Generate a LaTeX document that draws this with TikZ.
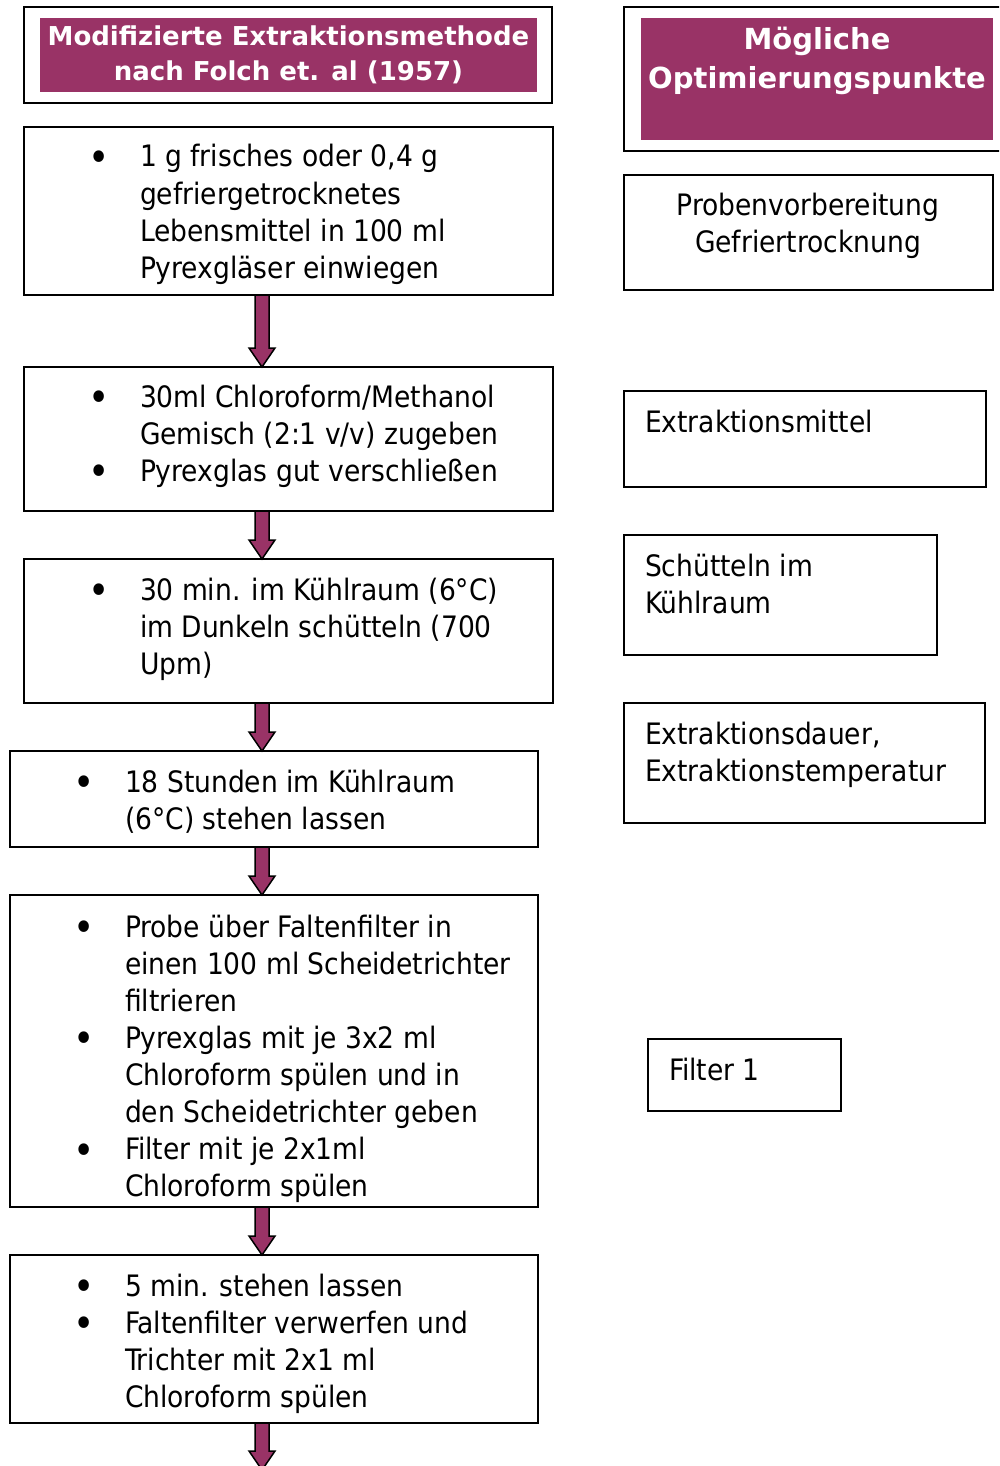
\documentclass[tikz,border=0pt]{standalone}
\usepackage{fontspec}
\setmainfont{DejaVu Sans Condensed}
\newfontfamily\hdrfont{DejaVu Sans}
\usetikzlibrary{calc}
\definecolor{plum}{HTML}{993366}
\newcommand{\bu}{\hspace*{6pt}\makebox[0pt][c]{\raisebox{-4.5pt}{\fontsize{40}{37}\selectfont\textbullet}}}
\newcommand{\blist}[1]{\begin{tabular}[t]{@{}p{47pt}@{}l@{}}#1\end{tabular}}
\newcommand{\plist}[1]{\begin{tabular}[t]{@{}l@{}}#1\end{tabular}}
\newcommand{\clist}[1]{\begin{tabular}[t]{@{}c@{}}#1\end{tabular}}
\tikzset{
  box/.style={draw=black, line width=2pt, rectangle, inner sep=0pt, outer sep=0pt, anchor=north west},
  hdrfill/.style={fill=plum, draw=none, rectangle, inner sep=0pt, outer sep=0pt, anchor=north west},
  txt/.style={inner sep=0pt, outer sep=0pt, anchor=base west, font={\fontsize{29.5}{37.1}\selectfont}},
  ctxt/.style={txt, anchor=base},
  hdrtxt/.style={inner sep=0pt, outer sep=0pt, anchor=base, text=white, font={\hdrfont\bfseries\fontsize{26}{35}\selectfont}},
  hdrtxtb/.style={hdrtxt, font={\hdrfont\bfseries\fontsize{29}{39}\selectfont}},
  fatarrow/.style={draw=black, fill=plum, line width=1.5pt, line join=miter},
}
\newcommand{\fatarr}[2]{%
  \path let \p1=(#1.south -| ax), \p2=(#2.north -| ax) in
    [fatarrow] (\x1-7pt,\y1) -- (\x1-7pt,\y2+19pt) -- (\x1-13pt,\y2+19pt) -- (\x2,\y2)
    -- (\x1+13pt,\y2+19pt) -- (\x1+7pt,\y2+19pt) -- (\x1+7pt,\y1) -- cycle;}
\begin{document}
\begin{tikzpicture}[x=1pt, y=-1pt]
\useasboundingbox (0,0) rectangle (999,1466);
\clip (0,0) rectangle (999,1466);
\coordinate (ax) at (262,0);
\coordinate (end) at (262,1470);

% left header
\node[box, minimum width=528pt, minimum height=96pt] (hl) at (24,7) {};
\node[hdrfill, minimum width=497pt, minimum height=74pt] (hlf) at (40,18) {};
\node[hdrtxt] (hlt) at (288.5,46) {\clist{Modifizierte Extraktionsmethode\\nach Folch et. al (1957)}};

% right header
\node[box, minimum width=380pt, minimum height=144pt] (hr) at (624,7) {};
\node[hdrfill, minimum width=352pt, minimum height=122pt] (hrf) at (641,18) {};
\node[hdrtxtb] (hrt) at (817,50) {\clist{Mögliche\\Optimierungspunkte}};

% left column boxes
\node[box, minimum width=529pt, minimum height=168pt] (b1) at (24,127) {};
\node[txt] (t1) at (93,167) {\blist{\bu & 1 g frisches oder 0,4 g\\ & gefriergetrocknetes\\ & Lebensmittel in 100 ml\\ & Pyrexgläser einwiegen}};

\node[box, minimum width=529pt, minimum height=144pt] (b2) at (24,367) {};
\node[txt] (t2) at (93,407) {\blist{\bu & 30ml Chloroform/Methanol\\ & Gemisch (2:1 v/v) zugeben\\ \bu & Pyrexglas gut verschließen}};

\node[box, minimum width=529pt, minimum height=144pt] (b3) at (24,559) {};
\node[txt] (t3) at (93,600) {\blist{\bu & 30 min. im Kühlraum (6°C)\\ & im Dunkeln schütteln (700\\ & Upm)}};

\node[box, minimum width=528pt, minimum height=96pt] (b4) at (10,751) {};
\node[txt] (t4) at (78,792) {\blist{\bu & 18 Stunden im Kühlraum\\ & (6°C) stehen lassen}};

\begin{scope}
\clip (10,895) rectangle (538,1207);
\node[txt] (t5) at (78,937) {\blist{\bu & Probe über Faltenfilter in\\ & einen 100 ml Scheidetrichter\\ & filtrieren\\ \bu & Pyrexglas mit je 3x2 ml\\ & Chloroform spülen und in\\ & den Scheidetrichter geben\\ \bu & Filter mit je 2x1ml\\ & Chloroform spülen}};
\end{scope}
\node[box, minimum width=528pt, minimum height=312pt] (b5) at (10,895) {};

\node[box, minimum width=528pt, minimum height=168pt] (b6) at (10,1255) {};
\node[txt] (t6) at (78,1296) {\blist{\bu & 5 min. stehen lassen\\ \bu & Faltenfilter verwerfen und\\ & Trichter mit 2x1 ml\\ & Chloroform spülen}};

% right column boxes
\node[box, minimum width=369pt, minimum height=115pt] (r1) at (624,175) {};
\node[ctxt] (rt1) at (808,215) {\clist{Probenvorbereitung\\Gefriertrocknung}};

\node[box, minimum width=362pt, minimum height=96pt] (r2) at (624,391) {};
\node[txt] (rt2) at (645,432) {Extraktionsmittel};

\node[box, minimum width=313pt, minimum height=120pt] (r3) at (624,535) {};
\node[txt] (rt3) at (645,576) {\plist{Schütteln im\\Kühlraum}};

\node[box, minimum width=361pt, minimum height=120pt] (r4) at (624,703) {};
\node[txt] (rt4) at (645,744) {\plist{Extraktionsdauer,\\Extraktionstemperatur}};

\node[box, minimum width=193pt, minimum height=72pt] (r5) at (648,1039) {};
\node[txt] (rt5) at (669,1080) {Filter 1};

% arrows
\fatarr{b1}{b2}
\fatarr{b2}{b3}
\fatarr{b3}{b4}
\fatarr{b4}{b5}
\fatarr{b5}{b6}
\fatarr{b6}{end}
\end{tikzpicture}
\end{document}
